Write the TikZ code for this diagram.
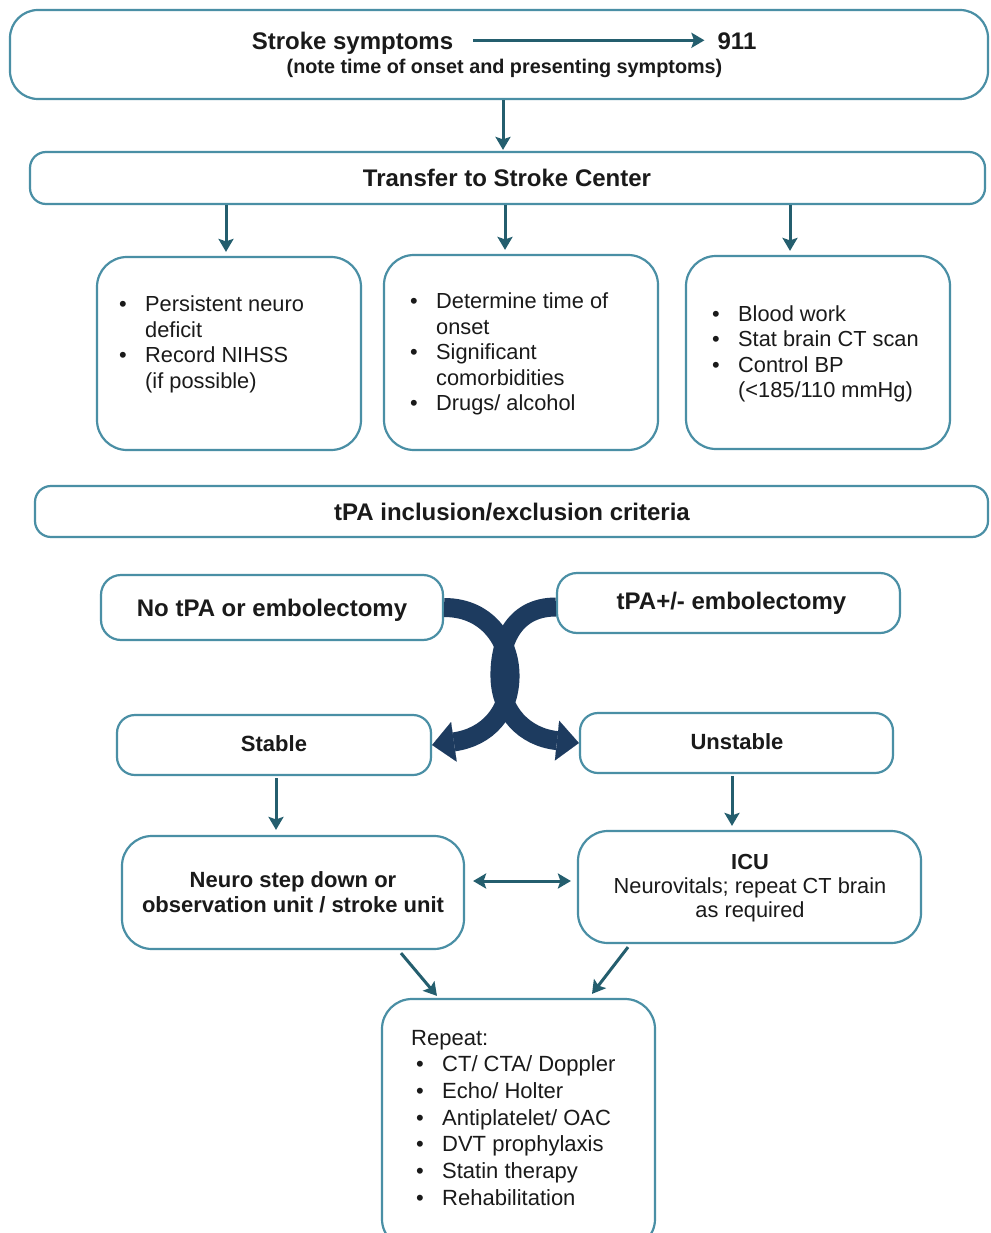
\documentclass[tikz,border=0pt]{standalone}
\usepackage{fontspec}
\setmainfont{Liberation Sans}
\usetikzlibrary{arrows.meta,calc}
\definecolor{boxc}{HTML}{4A8FA5}
\definecolor{arrc}{HTML}{245E6E}
\definecolor{navy}{HTML}{1D3B5F}
\definecolor{ink}{HTML}{1A1A1A}
\newcommand\rg{\fontsize{21.8}{25.5}\selectfont}
\newcommand\hb{\fontsize{24}{28}\selectfont\bfseries}
\newcommand\mb{\fontsize{22}{25}\selectfont\bfseries}
\newcommand\itm{\makebox[26pt][l]{\textbullet}}
\newcommand\ind{\hspace*{26pt}}
\tikzset{
  box/.style={draw=boxc, line width=2.2pt, fill=white, rounded corners=#1, inner sep=0pt},
  txt/.style={inner sep=0pt, anchor=base, text=ink},
  lst/.style={inner sep=0pt, anchor=base west, text=ink},
  arr/.style={draw=arrc, line width=3pt, -{Stealth[length=13pt,width=15pt,inset=2.5pt]}},
  darr/.style={draw=arrc, line width=3pt, {Stealth[length=13pt,width=15pt,inset=2.5pt]}-{Stealth[length=13pt,width=15pt,inset=2.5pt]}},
  big/.style={draw=navy, line width=19pt, -{Triangle[length=22pt,width=40pt,line width=0.1pt]}}
}
\begin{document}
\begin{tikzpicture}[x=1pt,y=-1pt]
\useasboundingbox (0,0) rectangle (990,1233);
\fill[white] (0,0) rectangle (990,1233);

% boxes
\node[box=28pt, minimum width=978pt, minimum height=89pt] (top) at (499,54.5) {};
\node[box=16pt, minimum width=955pt, minimum height=52pt] (trans) at (507.5,178) {};
\node[box=30pt, minimum width=264pt, minimum height=193pt] (A) at (229,353.5) {};
\node[box=30pt, minimum width=274pt, minimum height=195pt] (B) at (521,352.5) {};
\node[box=30pt, minimum width=264pt, minimum height=193pt] (C) at (818,352.5) {};
\node[box=16pt, minimum width=953pt, minimum height=51pt] (crit) at (511.5,511.5) {};
\node[box=20pt, minimum width=342pt, minimum height=65pt] (no) at (272,607.5) {};
\node[box=20pt, minimum width=343pt, minimum height=60pt] (yes) at (728.5,603) {};
\node[box=18pt, minimum width=314pt, minimum height=60pt] (stable) at (274,745) {};
\node[box=18pt, minimum width=313pt, minimum height=60pt] (unstable) at (736.5,743) {};
\node[box=30pt, minimum width=342pt, minimum height=113pt] (neuro) at (293,892.5) {};
\node[box=30pt, minimum width=343pt, minimum height=112pt] (icu) at (749.5,887) {};
\node[box=30pt, minimum width=273pt, minimum height=250pt] (rep) at (518.5,1124) {};

% texts
\node[txt, font=\hb] (sym) at (352.5,49.5) {Stroke symptoms};
\node[txt, font=\hb] (nine) at (737,49.5) {911};
\draw[arr, shorten <=20pt, shorten >=13pt] ([yshift=3pt]sym.east) -- ([yshift=3pt]sym.east -| nine.west);
\node[txt, font=\fontsize{19.8}{24}\selectfont\bfseries] (note) at (504.5,74) {(note time of onset and presenting symptoms)};
\node[txt, font=\hb] (transt) at (507,187) {Transfer to Stroke Center};
\node[txt, font=\hb] (critt) at (512,520) {tPA inclusion/exclusion criteria};
\node[txt, font=\hb] (not) at (272,616) {No tPA or embolectomy};
\node[txt, font=\hb] (yest) at (731.5,609.5) {tPA+/- embolectomy};
\node[txt, font=\mb] (stablet) at (274,751) {Stable};
\node[txt, font=\mb] (unstablet) at (737,749) {Unstable};
\node[txt, font=\mb] (neurot) at (293,887.5) {\begin{tabular}[t]{@{}c@{}}Neuro step down or\\observation unit / stroke unit\end{tabular}};
\node[txt, font=\fontsize{21.8}{24}\selectfont] (icut) at (750,869.5) {\begin{tabular}[t]{@{}c@{}}\textbf{ICU}\\Neurovitals; repeat CT brain\\as required\end{tabular}};

\node[lst, font=\rg] (At) at (119,311.5) {\begin{tabular}[t]{@{}l@{}}\itm Persistent neuro\\ \ind deficit\\ \itm Record NIHSS\\ \ind (if possible)\end{tabular}};
\node[lst, font=\rg] (Bt) at (410,308.5) {\begin{tabular}[t]{@{}l@{}}\itm Determine time of\\ \ind onset\\ \itm Significant\\ \ind comorbidities\\ \itm Drugs/ alcohol\end{tabular}};
\node[lst, font=\rg] (Ct) at (712,321) {\begin{tabular}[t]{@{}l@{}}\itm Blood work\\ \itm Stat brain CT scan\\ \itm Control BP\\ \ind (<185/110 mmHg)\end{tabular}};
\node[lst, font=\fontsize{22}{26.7}\selectfont] (rept) at (411,1045) {\begin{tabular}[t]{@{}l@{}}Repeat:\\ \hspace*{5pt}\itm CT/ CTA/ Doppler\\ \hspace*{5pt}\itm Echo/ Holter\\ \hspace*{5pt}\itm Antiplatelet/ OAC\\ \hspace*{5pt}\itm DVT prophylaxis\\ \hspace*{5pt}\itm Statin therapy\\ \hspace*{5pt}\itm Rehabilitation\end{tabular}};

% straight connectors
\path (top.south) ++(4,0) coordinate (t1);
\draw[arr, shorten >=1pt] (t1) -- (t1 |- trans.north);
\path (A.north) ++(-3,0) coordinate (a1);
\path (B.north) ++(-16,0) coordinate (b1);
\path (C.north) ++(-28,0) coordinate (c1);
\draw[arr, shorten >=4pt] (a1 |- trans.south) -- (a1);
\draw[arr, shorten >=4pt] (b1 |- trans.south) -- (b1);
\draw[arr, shorten >=4pt] (c1 |- trans.south) -- (c1);
\path (stable.south) ++(2,0) coordinate (s1);
\draw[arr, shorten <=2pt, shorten >=5pt] (s1) -- (s1 |- neuro.north);
\path (unstable.south) ++(-4.5,0) coordinate (u1);
\draw[arr, shorten <=2pt, shorten >=4pt] (u1) -- (u1 |- icu.north);
\path (neuro.east) ++(0,-11.5) coordinate (n1);
\draw[darr, shorten <=8pt, shorten >=6pt] (n1) -- (n1 -| icu.west);
\path (neuro.south) ++(108,3) coordinate (d1);
\path (rep.north) ++(-81.5,-2) coordinate (d2);
\draw[arr] (d1) -- (d2);
\path (icu.south) ++(-121.5,3) coordinate (e1);
\path (rep.north) ++(73.5,-4) coordinate (e2);
\draw[arr] (e1) -- (e2);

% curved crossing arrows
\draw[big] ([yshift=-4pt]yes.west) .. controls (512,607) and (499,645) .. (500,678) .. controls (501,712) and (524,737) .. (unstable.west);
\draw[big] (no.east) .. controls (490,607.5) and (511,645) .. (510,678) .. controls (509,712) and (488,737) .. (stable.east);
\end{tikzpicture}
\end{document}
